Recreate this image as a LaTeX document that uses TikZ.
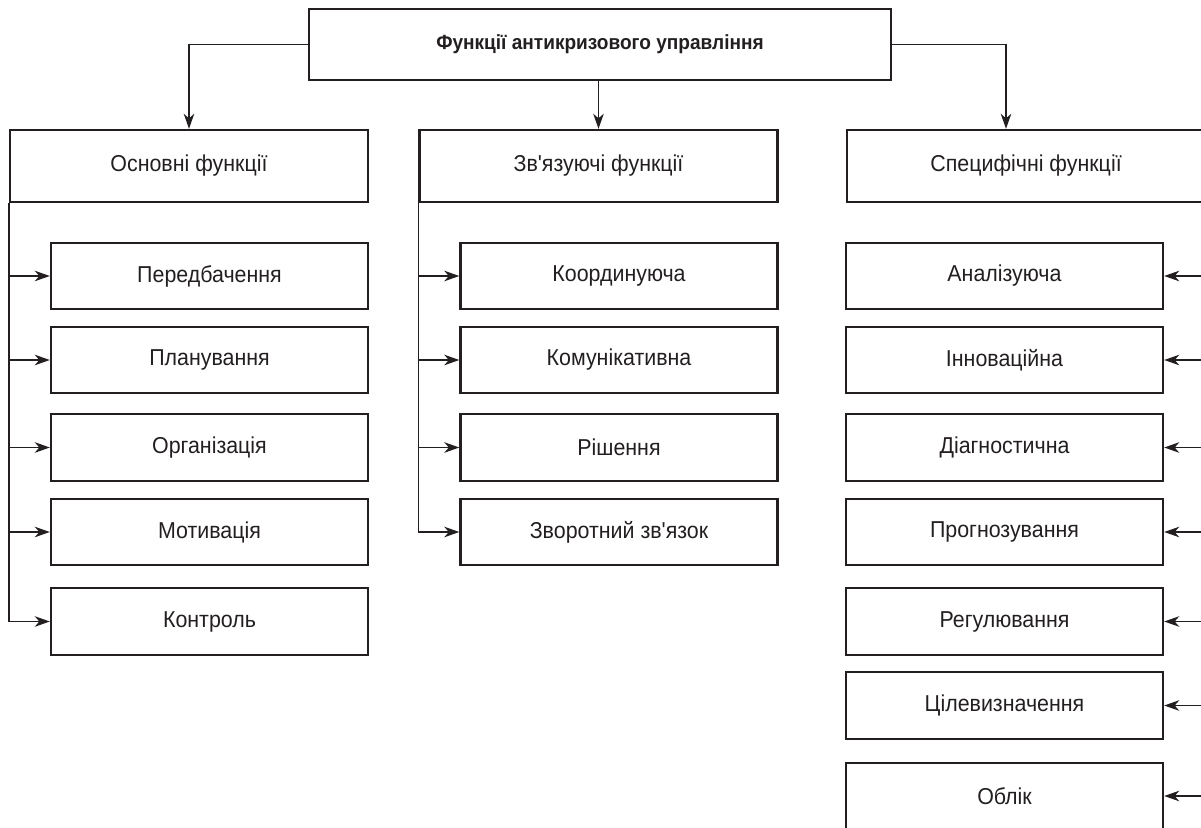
\documentclass[tikz,border=0pt]{standalone}
\usepackage{fontspec}
\setmainfont{Liberation Sans}[Ligatures=TeXOff, FakeStretch=0.93]
\usetikzlibrary{calc,arrows.meta}
\definecolor{ink}{HTML}{231F20}
\tikzset{
  box/.style={draw=ink, line width=2.4pt, text=ink, inner sep=0pt,
    font=\fontsize{23}{27}\selectfont, minimum width=317pt, minimum height=66.5pt},
  head/.style={box, minimum width=358pt, minimum height=72pt},
  root/.style={box, minimum width=582pt, minimum height=71pt,
    font=\bfseries\fontsize{20.5}{24}\selectfont},
  link/.style={draw=ink, line width=1.5pt},
  arr/.style={link, -{Stealth[length=15pt,width=10.5pt,inset=4.5pt]}},
}

\begin{document}
\begin{tikzpicture}[x=1pt,y=-1pt]
  \useasboundingbox (0,0) rectangle (1201,827);

  % root and the three groups
  \node[root] (top) at (600,44.5) {Функції антикризового управління};
  \node[head] (osn) at (189,166) {Основні функції};
  \node[head] (zv) at (598.5,166) {Зв'язуючі функції};
  \node[head] (spec) at (1026,166) {Специфічні функції};

  \draw[arr] (top.west) -| (osn.north);
  \draw[arr] (top.south -| zv.north) -- (zv.north);
  \draw[arr] (top.east) -| ($(spec.north)+(-20,0)$);

  % basic functions
  \node[box] (osn1) at (209.5,276) {Передбачення};
  \node[box] (osn2) at (209.5,360) {Планування};
  \node[box] (osn3) at (209.5,447.5) {Організація};
  \node[box] (osn4) at (209.5,532) {Мотивація};
  \node[box] (osn5) at (209.5,621.5) {Контроль};

  \draw[arr] (osn.south west) |- (osn5.west);
  \draw[arr] (osn.south west |- osn1) -- (osn1.west);
  \draw[arr] (osn.south west |- osn2) -- (osn2.west);
  \draw[arr] (osn.south west |- osn3) -- (osn3.west);
  \draw[arr] (osn.south west |- osn4) -- (osn4.west);

  % linking functions
  \node[box] (zv1) at (619,276) {Координуюча};
  \node[box] (zv2) at (619,360) {Комунікативна};
  \node[box] (zv3) at (619,447.5) {Рішення};
  \node[box] (zv4) at (619,532) {Зворотний зв'язок};

  \draw[arr] (zv.south west) |- (zv4.west);
  \draw[arr] (zv.south west |- zv1) -- (zv1.west);
  \draw[arr] (zv.south west |- zv2) -- (zv2.west);
  \draw[arr] (zv.south west |- zv3) -- (zv3.west);

  % specific functions, fed from the right edge
  \node[box] (spec1) at (1004.5,276) {Аналізуюча};
  \node[box] (spec2) at (1004.5,360) {Інноваційна};
  \node[box] (spec3) at (1004.5,447.5) {Діагностична};
  \node[box] (spec4) at (1004.5,532) {Прогнозування};
  \node[box] (spec5) at (1004.5,621.5) {Регулювання};
  \node[box] (spec6) at (1004.5,705.5) {Цілевизначення};
  \node[box] (spec7) at (1004.5,796) {Облік};

  \draw[arr] (spec.south east) |- (spec7.east);
  \draw[arr] (spec.south east |- spec1) -- (spec1.east);
  \draw[arr] (spec.south east |- spec2) -- (spec2.east);
  \draw[arr] (spec.south east |- spec3) -- (spec3.east);
  \draw[arr] (spec.south east |- spec4) -- (spec4.east);
  \draw[arr] (spec.south east |- spec5) -- (spec5.east);
  \draw[arr] (spec.south east |- spec6) -- (spec6.east);
\end{tikzpicture}
\end{document}
